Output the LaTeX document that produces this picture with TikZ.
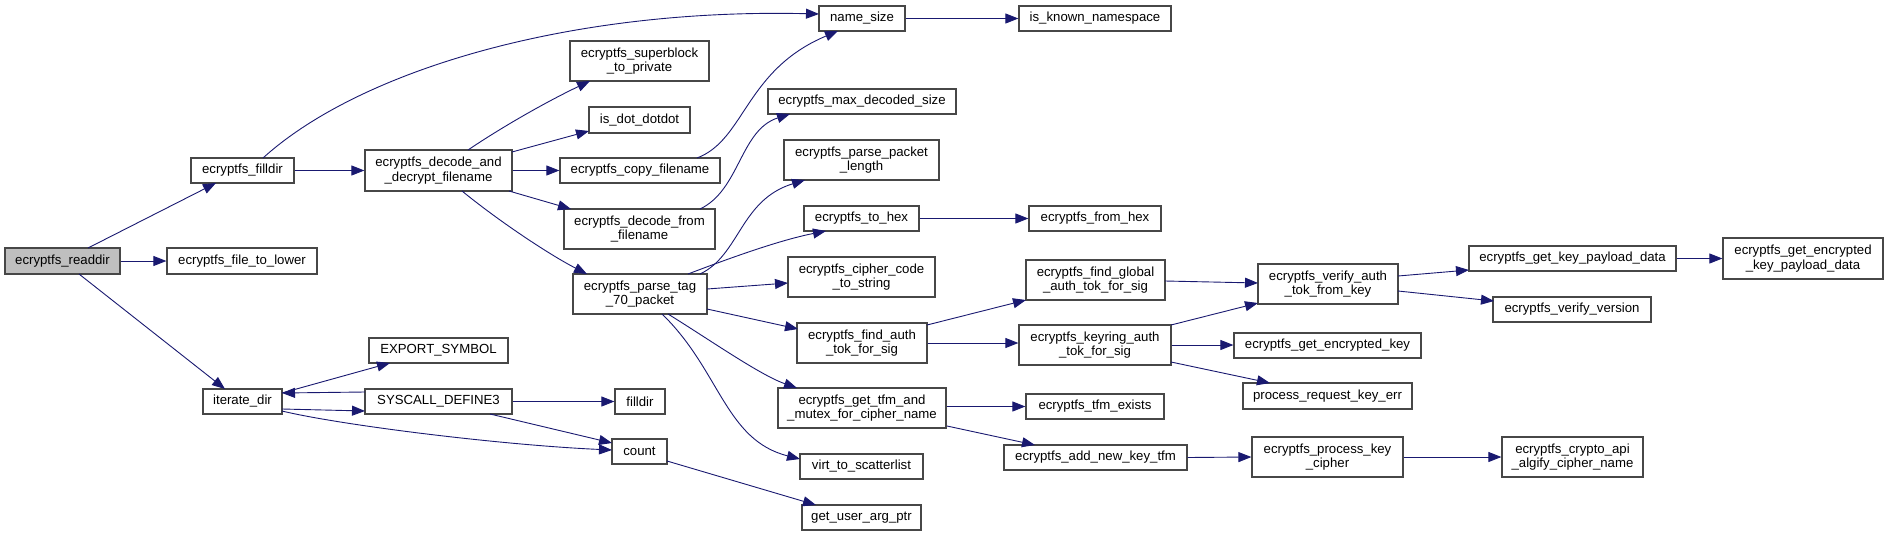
\documentclass[tikz,border=0pt]{standalone}
\usepackage{fontspec}
\setmainfont{Liberation Sans}
\usetikzlibrary{arrows.meta}
\definecolor{edgec}{HTML}{191970}
\definecolor{rootc}{HTML}{BFBFBF}
\newcommand\nd[7][]{\node[box,#1, minimum width={#5-#3}, minimum height={#6-#4}] (#2) at ({(#3+#5)/2},{(#4+#6)/2}) {#7};}
\newcommand\pt[3]{([shift={(#2,#3)}]#1.center)}
\begin{document}
\begin{tikzpicture}[x=1pt,y=-1pt,
  box/.style={draw=black!72, line width=1.2pt, fill=white, inner sep=0pt, align=center,
    font=\fontsize{13.2}{14.5}\selectfont},
  e/.style={draw=edgec, line width=0.9pt, -{Triangle[length=13pt,width=10pt]}}]
\useasboundingbox (0,0) rectangle (1888,536);
% nodes
\nd[fill=rootc]{readdir}{5}{248}{120}{274}{ecryptfs\_readdir}
\nd{fdir}{191}{158}{294}{183}{ecryptfs\_filldir}
\nd{ftl}{167}{248}{317}{274}{ecryptfs\_file\_to\_lower}
\nd{iter}{203}{389}{282}{414}{iterate\_dir}
\nd{dec}{365}{150}{512}{191}{ecryptfs\_decode\_and\\\_decrypt\_filename}
\nd{exp}{369}{338}{508}{363}{EXPORT\_SYMBOL}
\nd{sys}{365}{389}{512}{414}{SYSCALL\_DEFINE3}
\nd{ns}{819}{6}{905}{31}{name\_size}
\nd{sb}{570}{41}{709}{81}{ecryptfs\_superblock\\\_to\_private}
\nd{dot}{589}{107}{690}{133}{is\_dot\_dotdot}
\nd{copy}{560}{158}{720}{183}{ecryptfs\_copy\_filename}
\nd{dff}{564}{209}{715}{249}{ecryptfs\_decode\_from\\\_filename}
\nd{p70}{573}{274}{707}{314}{ecryptfs\_parse\_tag\\\_70\_packet}
\nd{fill}{615}{389}{665}{414}{filldir}
\nd{count}{612}{439}{667}{464}{count}
\nd{maxd}{768}{89}{956}{114}{ecryptfs\_max\_decoded\_size}
\nd{ppl}{784}{140}{939}{180}{ecryptfs\_parse\_packet\\\_length}
\nd{tohex}{804}{206}{919}{231}{ecryptfs\_to\_hex}
\nd{ccs}{788}{257}{935}{297}{ecryptfs\_cipher\_code\\\_to\_string}
\nd{fat}{797}{323}{927}{363}{ecryptfs\_find\_auth\\\_tok\_for\_sig}
\nd{tfm}{778}{388}{946}{428}{ecryptfs\_get\_tfm\_and\\\_mutex\_for\_cipher\_name}
\nd{virt}{800}{454}{923}{479}{virt\_to\_scatterlist}
\nd{guap}{802}{505}{921}{530}{get\_user\_arg\_ptr}
\nd{kn}{1019}{6}{1171}{31}{is\_known\_namespace}
\nd{fromhex}{1029}{206}{1161}{231}{ecryptfs\_from\_hex}
\nd{fg}{1026}{260}{1165}{300}{ecryptfs\_find\_global\\\_auth\_tok\_for\_sig}
\nd{kr}{1019}{325}{1171}{365}{ecryptfs\_keyring\_auth\\\_tok\_for\_sig}
\nd{tfmex}{1026}{394}{1164}{419}{ecryptfs\_tfm\_exists}
\nd{ank}{1004}{445}{1187}{470}{ecryptfs\_add\_new\_key\_tfm}
\nd{va}{1258}{264}{1398}{304}{ecryptfs\_verify\_auth\\\_tok\_from\_key}
\nd{gek}{1234}{333}{1421}{358}{ecryptfs\_get\_encrypted\_key}
\nd{prke}{1243}{383}{1412}{409}{process\_request\_key\_err}
\nd{pkc}{1252}{437}{1403}{477}{ecryptfs\_process\_key\\\_cipher}
\nd{gkpd}{1469}{246}{1676}{271}{ecryptfs\_get\_key\_payload\_data}
\nd{vv}{1493}{297}{1651}{322}{ecryptfs\_verify\_version}
\nd{algify}{1502}{437}{1643}{477}{ecryptfs\_crypto\_api\\\_algify\_cipher\_name}
\nd{gekpd}{1723}{238}{1883}{279}{ecryptfs\_get\_encrypted\\\_key\_payload\_data}
% edges
\draw[e] \pt{readdir}{25.5}{-13} -- \pt{fdir}{-26.5}{12.5};
\draw[e] (readdir.east) -- (ftl.west);
\draw[e] \pt{readdir}{16.5}{13} -- \pt{iter}{-17.5}{-12.5};
\draw[e] (fdir.east) -- (dec.west);
\draw[e] \pt{fdir}{20.5}{-12.5} .. controls (360,70) and (570,8) .. \pt{ns}{-43}{-4.5};
\draw[e] \pt{dec}{29.5}{-20.5} .. controls (505,125) and (550,100) .. \pt{sb}{-49.5}{20};
\draw[e] \pt{dec}{73.5}{-18.5} -- \pt{dot}{-50.5}{11};
\draw[e] (dec.east) -- (copy.west);
\draw[e] \pt{dec}{70.5}{20.5} -- \pt{dff}{-68.5}{-20};
\draw[e] \pt{dec}{23.5}{20.5} .. controls (500,222) and (550,255) .. \pt{p70}{-53}{-20};
\draw[e] \pt{copy}{57}{-12.5} .. controls (745,140) and (745,70) .. \pt{ns}{-24}{12.5};
\draw[e] \pt{dff}{60.5}{-20} .. controls (740,190) and (740,130) .. \pt{maxd}{-72}{12.5};
\draw[e] \pt{p70}{60}{-20} .. controls (740,255) and (740,200) .. \pt{ppl}{-56.5}{20};
\draw[e] \pt{p70}{48}{-20} .. controls (730,258) and (780,240) .. \pt{tohex}{-35.5}{12.5};
\draw[e] \pt{p70}{67}{-5} -- \pt{ccs}{-73.5}{6};
\draw[e] \pt{p70}{67}{15} -- \pt{fat}{-64}{-14};
\draw[e] \pt{p70}{28}{20} .. controls (710,340) and (760,375) .. \pt{tfm}{-65}{-20};
\draw[e] \pt{p70}{22}{20} .. controls (720,370) and (725,440) .. \pt{virt}{-61.5}{-7.5};
\draw[e] \pt{iter}{39.5}{-8.5} -- \pt{exp}{-48.5}{12.5};
\draw[e] \pt{sys}{-73.5}{-9.5} -- \pt{iter}{39.5}{-8.5};
\draw[e] \pt{iter}{39.5}{7.5} -- \pt{sys}{-73.5}{9.5};
\draw[e] \pt{iter}{39.5}{9.5} .. controls (340,425) and (500,445) .. \pt{count}{-27.5}{-1.5};
\draw[e] (sys.east) -- (fill.west);
\draw[e] \pt{sys}{51.5}{12.5} -- \pt{count}{-27.5}{-8.5};
\draw[e] \pt{count}{27.5}{9.5} -- \pt{guap}{-45.5}{-12.5};
\draw[e] (ns.east) -- (kn.west);
\draw[e] (tohex.east) -- (fromhex.west);
\draw[e] \pt{fat}{65}{-18} -- \pt{fg}{-69.5}{20};
\draw[e] (fat.east) -- (fat.east -| kr.west);
\draw[e] \pt{fg}{69.5}{1} -- \pt{va}{-70}{-1};
\draw[e] \pt{kr}{76}{-20} -- \pt{va}{-70}{19};
\draw[e] (kr.east) -- (kr.east -| gek.west);
\draw[e] \pt{kr}{76}{17} -- \pt{prke}{-57.5}{-13};
\draw[e] (tfmex.west -| tfm.east) -- (tfmex.west);
\draw[e] \pt{tfm}{85}{18} -- \pt{ank}{-60.5}{-12.5};
\draw[e] (ank.east) -- (pkc.west);
\draw[e] (pkc.east) -- (algify.west);
\draw[e] \pt{va}{70}{-8} -- \pt{gkpd}{-103.5}{11.5};
\draw[e] \pt{va}{70}{7} -- \pt{vv}{-78}{-8.5};
\draw[e] (gkpd.east) -- (gekpd.west);
\end{tikzpicture}
\end{document}
